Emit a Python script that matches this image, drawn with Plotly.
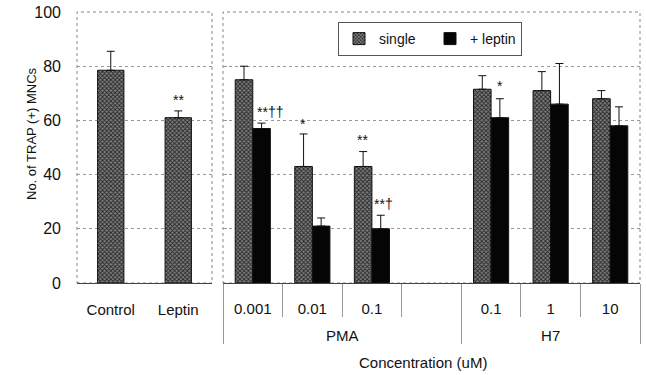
import plotly.graph_objects as go

# ---- data ----
left_categories = ["Control", "Leptin"]
left_values = [78.5, 61]
left_err = [7, 2.5]

group_labels = ["PMA", "PMA", "PMA", "PMA", "H7", "H7", "H7"]
conc_labels = ["0.001", "0.01", "0.1", " ", "0.1", "1", "10"]
single_values = [75, 43, 43, None, 71.5, 71, 68]
single_err = [5, 12, 5.5, 0, 5, 7, 3]
leptin_values = [57, 21, 20, None, 61, 66, 58]
leptin_err = [2, 3, 5, 0, 7, 15, 7]

y_ticks = [0, 20, 40, 60, 80, 100]

FONT = "Liberation Sans, Arial, sans-serif"
W, H = 646, 375
GRAY_FILL = "#808080"
pattern = dict(shape="x", size=3, solidity=0.5, fgcolor="#262626", bgcolor=GRAY_FILL, fillmode="replace")

# outer group labels, pushed one line lower
outer = ["<br>" + g for g in group_labels]

fig = go.Figure()

fig.add_trace(go.Bar(
    x=left_categories, y=left_values, width=0.39,
    marker=dict(color=GRAY_FILL, pattern=pattern, line=dict(color="#111", width=1)),
    error_y=dict(type="data", array=left_err, arrayminus=[0] * len(left_err), symmetric=False,
                 color="#111", thickness=1, width=4),
    showlegend=False, xaxis="x", yaxis="y", name="control",
))

fig.add_trace(go.Bar(
    x=[outer, conc_labels], y=single_values, name="single",
    marker=dict(color=GRAY_FILL, pattern=pattern, line=dict(color="#111", width=1)),
    error_y=dict(type="data", array=single_err, arrayminus=[0] * len(single_err), symmetric=False,
                 color="#111", thickness=1, width=4),
    xaxis="x2", yaxis="y2",
))
fig.add_trace(go.Bar(
    x=[outer, conc_labels], y=leptin_values, name="+ leptin",
    marker=dict(color="#050505", line=dict(color="#111", width=1)),
    error_y=dict(type="data", array=leptin_err, arrayminus=[0] * len(leptin_err), symmetric=False,
                 color="#111", thickness=1, width=4),
    xaxis="x2", yaxis="y2",
))

xd1 = [77 / W, 212 / W]
xd2 = [223 / W, 640 / W]
yd = [92 / H, 363 / H]

fig.update_layout(
    width=W, height=H,
    margin=dict(l=0, r=0, t=0, b=0, autoexpand=False),
    paper_bgcolor="white", plot_bgcolor="white",
    font=dict(family=FONT, size=13, color="#111"),
    barmode="group", bargap=0.41, bargroupgap=0,
    xaxis=dict(domain=xd1, anchor="y", type="category", showline=True, linecolor="#444",
               linewidth=1, ticks="", tickfont=dict(size=15), ticklabelstandoff=13),
    yaxis=dict(domain=yd, anchor="x", range=[0, 100], tickvals=y_ticks, showgrid=True,
               griddash="dot", gridcolor="#999", zeroline=False, showline=False,
               ticks="", ticklabelstandoff=15, tickfont=dict(size=16)),
    xaxis2=dict(domain=xd2, anchor="y2", type="multicategory", showline=True, linecolor="#444",
                linewidth=1, ticks="outside", ticklen=33, tickcolor="#999",
                dividercolor="#999", dividerwidth=1, tickfont=dict(size=15),
                ticklabelstandoff=12),
    yaxis2=dict(domain=yd, anchor="x2", range=[0, 100], tickvals=y_ticks, showgrid=True,
                griddash="dot", gridcolor="#999", zeroline=False, showline=False,
                showticklabels=False, ticks="inside", ticklen=4, tickcolor="#999"),
    legend=dict(orientation="h", x=338 / W, y=1 - 22 / H, xanchor="left", yanchor="top",
                bordercolor="#555", borderwidth=1, font=dict(size=14), bgcolor="white",
                itemwidth=30, entrywidth=46, entrywidthmode="pixels"),
    showlegend=True,
)

# panel frames (dotted)
for xd in (xd1, xd2):
    fig.add_shape(type="rect", xref="paper", yref="paper", x0=xd[0], x1=xd[1], y0=yd[0], y1=yd[1],
                  line=dict(color="#888", width=1, dash="dot"), layer="below")

# significance marks
annots = [
    dict(xref="x", yref="y", x="Leptin", y=64, text="**"),
    dict(xref="x2", yref="y2", x=0.04, y=59.5, text="**††", xanchor="left"),
    dict(xref="x2", yref="y2", x=0.85, y=55, text="*"),
    dict(xref="x2", yref="y2", x=1.85, y=49, text="**"),
    dict(xref="x2", yref="y2", x=2.0, y=25.5, text="**†", xanchor="left"),
    dict(xref="x2", yref="y2", x=4.15, y=69, text="*"),
]
for a in annots:
    fig.add_annotation(showarrow=False, yanchor="bottom", font=dict(size=14, color="#111"), **a)

fig.add_annotation(xref="paper", yref="paper", x=423 / W, y=1 - 362 / H, text="Concentration (uM)",
                   xanchor="center", yanchor="middle", showarrow=False, font=dict(size=15))
fig.add_annotation(xref="paper", yref="paper", x=32 / W, y=1 - 134 / H, text="No. of TRAP (+) MNCs",
                   xanchor="center", yanchor="middle", textangle=-90, showarrow=False,
                   font=dict(size=13))

fig.write_html("out.html", config={"displayModeBar": False},
               post_script="document.body.style.margin='0';")
